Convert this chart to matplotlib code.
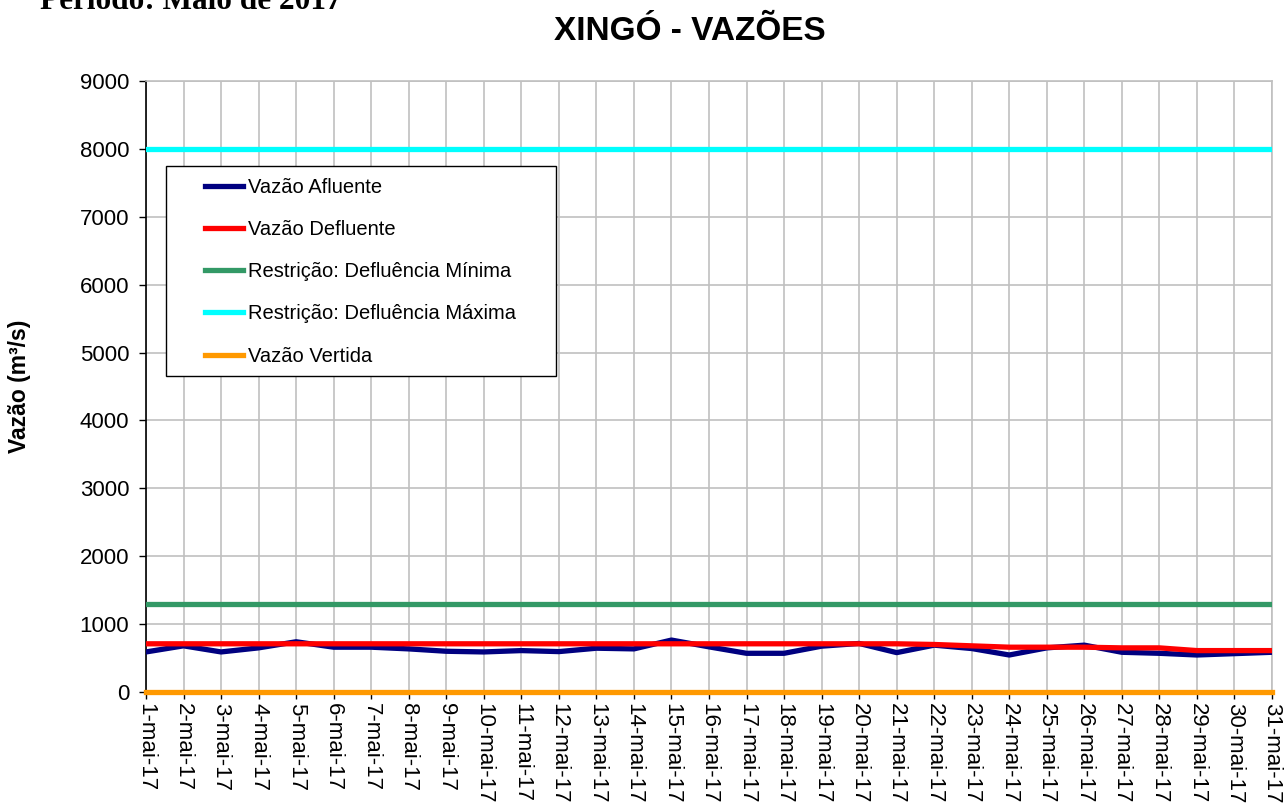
import matplotlib
matplotlib.use("Agg")
import matplotlib.pyplot as plt
from matplotlib.patches import Rectangle

days = list(range(1, 32))
labels = [f"{d}-mai-17" for d in days]
afluente = [590, 680, 590, 650, 740, 660, 660, 635, 600, 590, 610, 595, 645, 635, 765,
            665, 570, 570, 675, 715, 580, 690, 640, 545, 650, 690, 585, 570, 545, 565, 585]
defluente = [710] * 21 + [700, 680, 660, 660, 660, 650, 650, 610, 610, 610]
def_min = [1300] * 31
def_max = [8000] * 31
vertida = [0] * 31

plt.rcParams['font.family'] = ['Liberation Sans', 'DejaVu Sans']

W, H = 1286, 806
fig = plt.figure(figsize=(W/100, H/100), dpi=100)
ax = fig.add_axes([146/W, 1-692/H, (1272-146)/W, (692-81)/H])

lw = 3.8
ax.plot(days, def_max, color='#00ffff', lw=lw, label='Restrição: Defluência Máxima', zorder=3)
ax.plot(days, def_min, color='#339966', lw=lw, label='Restrição: Defluência Mínima', zorder=3)
ax.plot(days, vertida, color='#ff9900', lw=lw, label='Vazão Vertida', zorder=3, clip_on=False)
ax.plot(days, afluente, color='#000080', lw=lw, label='Vazão Afluente', zorder=4)
ax.plot(days, defluente, color='#ff0000', lw=lw, label='Vazão Defluente', zorder=5)

ax.set_xlim(1, 31)
ax.set_ylim(0, 9000)
ax.set_yticks(range(0, 9001, 1000))
ax.set_xticks(days)
ax.set_xticklabels(labels, rotation=270, fontsize=16)
ax.tick_params(axis='y', labelsize=16, direction='out', length=5, width=1, pad=7)
ax.tick_params(axis='x', direction='out', length=5, width=1, pad=3)
ax.grid(True, color='#c0c0c0', lw=1.2)
ax.set_axisbelow(True)
for s in ['top', 'right']:
    ax.spines[s].set_color('#c0c0c0')
    ax.spines[s].set_linewidth(1.2)
for s in ['left', 'bottom']:
    ax.spines[s].set_color('black')
    ax.spines[s].set_linewidth(1.2)

ax.set_ylabel('Vazão (m³/s)', fontsize=16.5, fontweight='bold', labelpad=35)

# legend frame
frame = Rectangle((166/W, 1-376/H), (556-166)/W, (376-166)/H, transform=fig.transFigure,
                  facecolor='white', edgecolor='black', lw=1.0, zorder=10)
fig.patches.append(frame)

handles, labs = ax.get_legend_handles_labels()
order = ['Vazão Afluente', 'Vazão Defluente', 'Restrição: Defluência Mínima',
         'Restrição: Defluência Máxima', 'Vazão Vertida']
hmap = dict(zip(labs, handles))
leg = fig.legend([hmap[o] for o in order], order, loc='upper left',
                 bbox_to_anchor=(205/W, 1-178/H), bbox_transform=fig.transFigure,
                 fontsize=14.5, frameon=False, borderpad=0, labelspacing=1.15,
                 handlelength=1.9, handletextpad=0.25, borderaxespad=0)
leg.set_zorder(11)
for line in leg.get_lines():
    line.set_linewidth(lw)

fig.text(690/W, 1-32/H, 'XINGÓ - VAZÕES', ha='center', va='center',
         fontsize=24, fontweight='bold')
fig.text(40/W, 1-9/H, 'Período: Maio de 2017', ha='left', va='baseline',
         fontsize=22.5, fontweight='bold', family='Liberation Serif')

fig.savefig('out.png', dpi=100)
